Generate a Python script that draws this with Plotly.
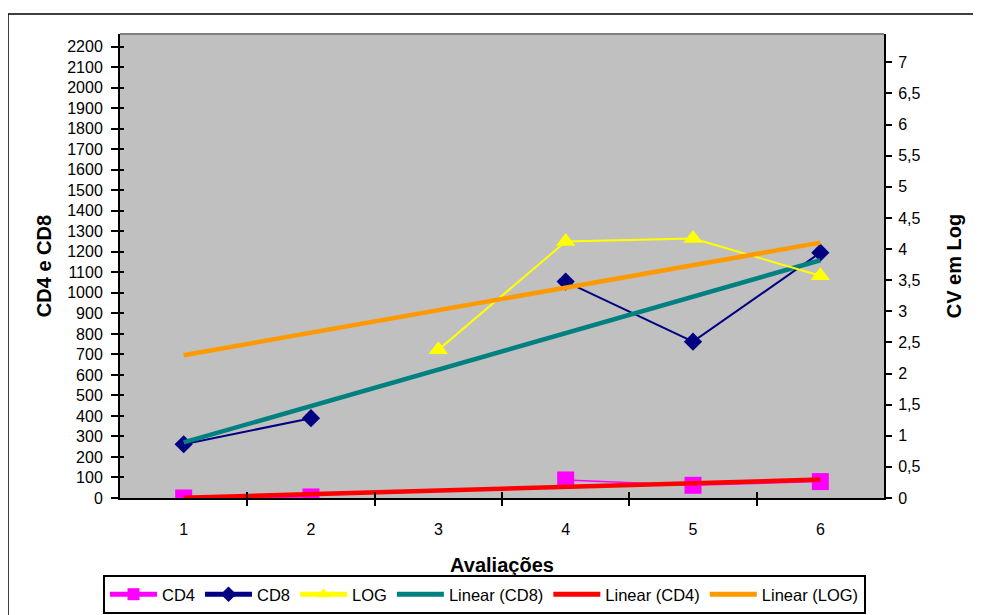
import numpy as np
import plotly.graph_objects as go

# ---- data ----
avaliacoes = [1, 2, 3, 4, 5, 6]
cd4 = [0, 5, None, 88, 62, 80]
cd8 = [262, 389, None, 1055, 762, 1196]
log_cv = [None, None, 2.38, 4.12, 4.17, 3.57]
tick_left = list(range(0, 2300, 100))
tick_right = [i * 0.5 for i in range(15)]


def trend(xs, ys):
    pts = [(x, y) for x, y in zip(xs, ys) if y is not None]
    px = np.array([p[0] for p in pts], dtype=float)
    py = np.array([p[1] for p in pts], dtype=float)
    m, b = np.polyfit(px, py, 1)
    xa = np.array([xs[0], xs[-1]], dtype=float)
    return list(xa), list(m * xa + b)


FONT = "Liberation Sans, Arial, sans-serif"

fig = go.Figure()
fig.add_trace(go.Scatter(x=avaliacoes, y=cd4, name="CD4", mode="lines+markers",
                         line=dict(color="#FF00FF", width=1.5),
                         marker=dict(symbol="square", size=17, color="#FF00FF")))
fig.add_trace(go.Scatter(x=avaliacoes, y=cd8, name="CD8", mode="lines+markers",
                         line=dict(color="#000080", width=2),
                         marker=dict(symbol="diamond", size=14, color="#000080")))
fig.add_trace(go.Scatter(x=avaliacoes, y=log_cv, name="LOG", mode="lines+markers",
                         yaxis="y2",
                         line=dict(color="#FFFF00", width=2),
                         marker=dict(symbol="triangle-up", size=17, color="#FFFF00")))
tx, ty = trend(avaliacoes, cd8)
fig.add_trace(go.Scatter(x=tx, y=ty, name="Linear (CD8)", mode="lines",
                         line=dict(color="#008080", width=4.5)))
tx, ty = trend(avaliacoes, cd4)
fig.add_trace(go.Scatter(x=tx, y=ty, name="Linear (CD4)", mode="lines",
                         line=dict(color="#FF0000", width=4.5)))
tx, ty = trend(avaliacoes, log_cv)
fig.add_trace(go.Scatter(x=tx, y=ty, name="Linear (LOG)", mode="lines", yaxis="y2",
                         line=dict(color="#FF9900", width=4.5)))

# helper empty traces for the inside half of the crossing tick marks
fig.add_trace(go.Scatter(x=[None], y=[None], xaxis="x2", yaxis="y", showlegend=False, hoverinfo="skip"))
fig.add_trace(go.Scatter(x=[None], y=[None], xaxis="x", yaxis="y3", showlegend=False, hoverinfo="skip"))

# the page body adds an 8px offset, so figure coords = page coords - 8
W, H = 980, 640
L, R, T, B = 112, 876, 26, 490


def px_x(p):
    return (p - L) / (R - L)


def px_y(p):
    return (B - p) / (B - T)


between = [1.5, 2.5, 3.5, 4.5, 5.5]

fig.update_layout(
    width=W, height=H,
    margin=dict(l=L, r=W - R, t=T, b=H - B, autoexpand=False),
    paper_bgcolor="white",
    plot_bgcolor="#C0C0C0",
    separators=",.",
    font=dict(family=FONT, size=16, color="black"),
    showlegend=True,
    legend=dict(orientation="h", x=px_x(476.5), xanchor="center", y=px_y(567), yanchor="top",
                bordercolor="black", borderwidth=2, bgcolor="white",
                font=dict(size=16.5), itemwidth=47, itemsizing="constant", tracegroupgap=0),
    xaxis=dict(range=[0.5, 6.5], tickmode="array", tickvals=avaliacoes,
               ticktext=[str(v) for v in avaliacoes], ticks="",
               minor=dict(tickmode="array", tickvals=between, ticks="outside", ticklen=6,
                          tickwidth=1.5, tickcolor="black", showgrid=False),
               showgrid=False, zeroline=False, showline=True, linecolor="black", linewidth=2,
               ticklabelstandoff=16, automargin=False,
               title=dict(text="<b>Avaliações</b>", font=dict(size=20), standoff=21),
               tickfont=dict(size=16)),
    xaxis2=dict(range=[0.5, 6.5], overlaying="x", anchor="y", side="bottom",
                tickmode="array", tickvals=between, ticks="inside", ticklen=6,
                tickwidth=1.5, tickcolor="black", showticklabels=False, automargin=False,
                showgrid=False, zeroline=False, showline=False),
    yaxis=dict(range=[0, 2262], tickmode="array", tickvals=tick_left,
               ticks="outside", ticklen=7, tickwidth=1.5, tickcolor="black",
               showgrid=False, zeroline=False, showline=True, linecolor="black", linewidth=2,
               ticklabelstandoff=5, automargin=False,
               title=dict(text="<b>CD4 e CD8</b>", font=dict(size=20), standoff=10),
               tickfont=dict(size=16)),
    yaxis3=dict(range=[0, 2262], overlaying="y", anchor="x", side="left",
                tickmode="array", tickvals=tick_left, ticks="inside", ticklen=4,
                tickwidth=1.5, tickcolor="black", showticklabels=False, automargin=False,
                showgrid=False, zeroline=False, showline=False),
    yaxis2=dict(range=[0, 7.455], overlaying="y", side="right", anchor="x",
                tickmode="array", tickvals=tick_right,
                ticktext=[("%g" % v).replace(".", ",") for v in tick_right],
                ticks="outside", ticklen=6, tickwidth=1.5, tickcolor="black",
                showgrid=False, zeroline=False, showline=True, linecolor="black", linewidth=2,
                ticklabelstandoff=3, automargin=False,
                title=dict(text="<b>CV em Log</b>", font=dict(size=20), standoff=27),
                tickfont=dict(size=16)),
    shapes=[
        dict(type="line", xref="paper", yref="paper", x0=0, x1=1, y0=1, y1=1,
             line=dict(color="#808080", width=2), layer="above"),
        dict(type="rect", xref="paper", yref="paper",
             x0=px_x(0), x1=px_x(1000), y0=px_y(660), y1=px_y(6),
             line=dict(color="black", width=1.5), fillcolor="rgba(0,0,0,0)", layer="above"),
    ],
)

fig.write_html("out.html")
